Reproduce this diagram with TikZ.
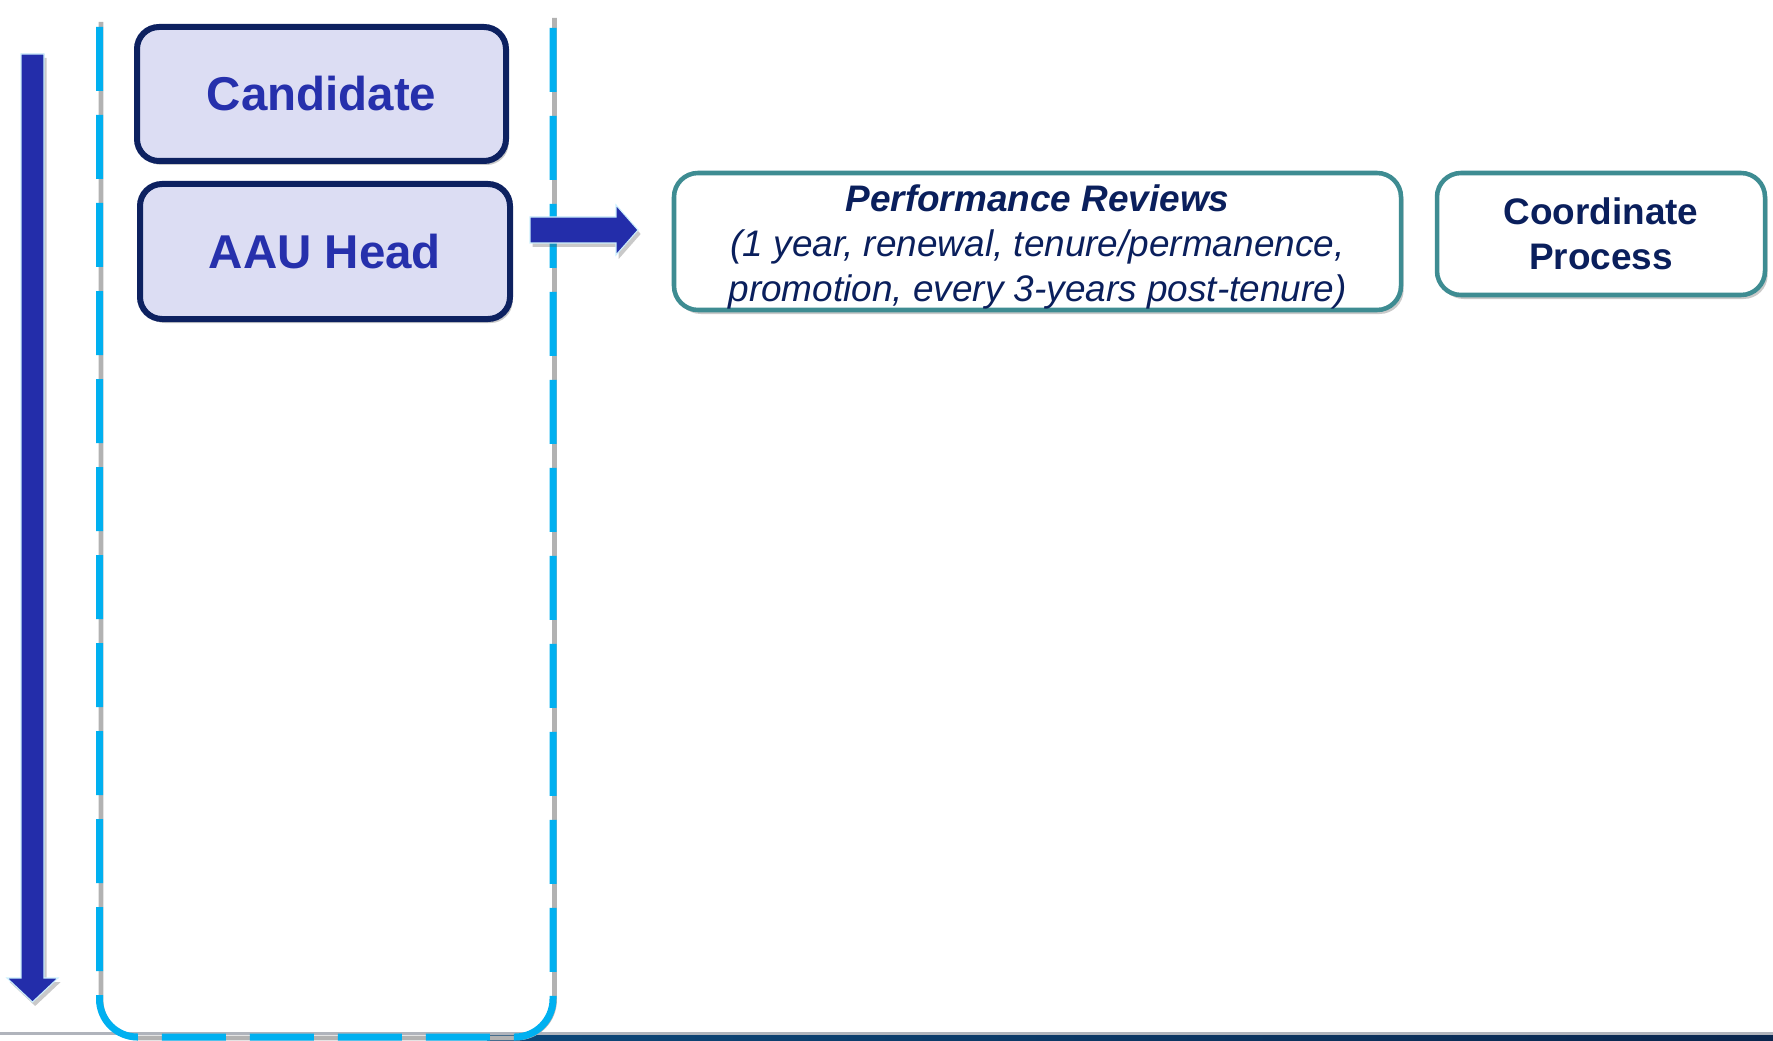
\documentclass[tikz,border=0pt]{standalone}
\usepackage{fontspec}
\setmainfont{Liberation Sans}
\usetikzlibrary{shadows,calc}
\definecolor{lav}{RGB}{220,221,243}
\definecolor{navyb}{RGB}{13,33,96}
\definecolor{roleblue}{RGB}{38,48,172}
\definecolor{arrowblue}{RGB}{35,45,170}
\definecolor{dashcyan}{RGB}{0,176,240}
\definecolor{tealb}{RGB}{62,140,146}
\definecolor{txtnavy}{RGB}{10,31,92}
\definecolor{bandL}{RGB}{12,72,122}
\definecolor{bandR}{RGB}{10,38,78}
\definecolor{baseGray}{RGB}{176,180,188}
\tikzset{
  softshadow/.style={drop shadow={shadow xshift=2pt, shadow yshift=-3pt, opacity=0.3, fill=black!70}},
  rolebox/.style={draw=navyb, fill=lav, line width=4.5pt, rounded corners=16.5pt,
    minimum width=277pt, minimum height=101pt, text=roleblue,
    font=\fontsize{35.6}{40}\selectfont\bfseries, softshadow},
  stepbox/.style={draw=tealb, fill=white, line width=3.4pt, rounded corners=18pt,
    inner sep=0pt, text=txtnavy, align=center, softshadow},
  blockarrow/.style={fill=arrowblue, draw=cyan!20, line width=0.8pt, softshadow},
}
\begin{document}
\begin{tikzpicture}[x=0.75pt,y=-0.75pt]
\useasboundingbox (0,0) rectangle (1773,1041);
\clip (0,0) rectangle (1773,1041);
% bottom base line and band
\fill[baseGray] (0,1032) rectangle (1773,1035);
\shade[left color=bandL, right color=bandR] (487,1035) rectangle (1773,1041);
% dashed container
\draw[black!30, line width=3.6pt, rounded corners=28.5pt]
  (101,22) -- (101,1038) -- (554.5,1038) -- (554.5,18);
\draw[dashcyan, line width=5.25pt, rounded corners=28.5pt, dash pattern=on 48pt off 18pt, dash phase=52.5pt]
  (99.5,9) -- (99.5,1037) -- (553,1037) -- (553,7);
% vertical time arrow
\fill[blockarrow] (21,54) -- (44,54) -- (44,978) -- (58,978) -- (32.5,1002) -- (7,978) -- (21,978) -- cycle;
% role boxes
\node[rolebox, minimum width=276.75pt, minimum height=100.5pt] (cand) at (321.5,94) {Candidate};
\node[rolebox, minimum width=277.5pt, minimum height=101.25pt] (aau) at (325,251.5) {AAU Head};
% step boxes
\node[stepbox, minimum width=545.25pt, minimum height=102.75pt,
  font=\fontsize{27.7}{33.75}\selectfont\itshape] (pr) at (1037.5,241.5)
  {\rule{0pt}{27.5pt}\textbf{Performance Reviews}\\(1 year, renewal, tenure/permanence,\\promotion, every 3-years post-tenure)};
\node[stepbox, minimum width=246pt, minimum height=91.5pt,
  font=\fontsize{27.7}{33.75}\selectfont\bfseries] (coord) at (1601,234)
  {Coordinate\\Process};
% arrow from AAU Head to performance reviews
\coordinate (a0) at (530,230);
\coordinate (a1) at (638,230);
\fill[blockarrow] ($(a0)+(0,-13)$) -- ($(a1)+(-22,-13)$) -- ($(a1)+(-22,-25)$) -- (a1)
  -- ($(a1)+(-22,25)$) -- ($(a1)+(-22,13)$) -- ($(a0)+(0,13)$) -- cycle;
\end{tikzpicture}
\end{document}
